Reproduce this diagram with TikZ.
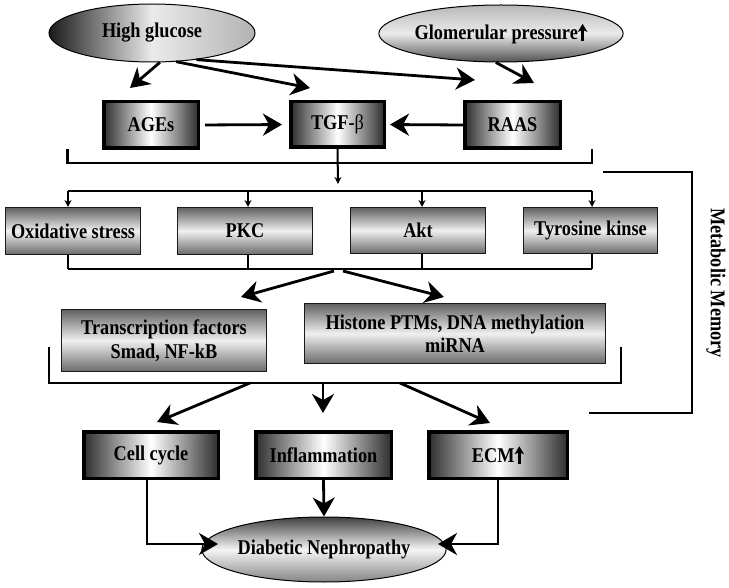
\documentclass[tikz,border=0pt]{standalone}
\usepackage{fontspec}
\setmainfont{Liberation Serif}[FakeStretch=0.87]
\usetikzlibrary{shapes.geometric,arrows.meta}
\newcommand{\thickup}{\tikz[baseline=0pt]\draw[line width=2.4pt,-{Stealth[length=8pt,width=9.5pt,inset=2pt]}] (0pt,-1.5pt) -- (0pt,16pt);}
\begin{document}
\begin{tikzpicture}[x=1pt,y=-1pt,
  every node/.style={font=\fontsize{21}{23.5}\selectfont\bfseries, inner sep=0pt},
  hbox/.style={draw=black, line width=3.5pt, minimum height=46.5pt, left color=black!82, right color=black!82, middle color=white},
  vbox/.style={draw=black!90, line width=1.2pt, top color=black!62, bottom color=black!58, middle color=white!94!black},
  ell/.style={ellipse, draw=black, line width=1pt},
  arr/.style={line width=2.8pt, -{Stealth[length=19pt,width=22pt,inset=6pt]}},
  sarr/.style={line width=2pt, -{Stealth[length=7pt,width=7pt]}},
  brk/.style={line width=2.8pt},
]
\useasboundingbox (0,0) rectangle (729,588);
\fill[white] (0,0) rectangle (729,588);

% ellipses
\node[ell, minimum width=206pt, minimum height=58pt, left color=black!90, right color=black!30, middle color=black!8] (hg) at (152,33) {High glucose};
\node[ell, minimum width=206pt, minimum height=57pt, top color=black!28, bottom color=black!68, middle color=black!8] (gp) at (501,33.5) {Glomerular pressure\thickup};
\node[ell, minimum width=194pt, minimum height=65pt, top color=black!75, bottom color=black!48, middle color=black!4] (dn) at (324,549.5) {Diabetic Nephropathy};

% row 1
\node[hbox, minimum width=94.5pt] (ages) at (151,125) {AGEs};
\node[hbox, minimum width=93.5pt, minimum height=45.5pt] (tgf) at (337.5,124.5) {TGF-{\mdseries β}};
\node[hbox, minimum width=95.5pt] (raas) at (512.5,125) {RAAS};

% row 2
\node[vbox, minimum width=134.8pt, minimum height=46.8pt] (ox) at (73,231) {Oxidative stress};
\node[vbox, minimum width=134.8pt, minimum height=46.8pt] (pkc) at (245,231) {PKC};
\node[vbox, minimum width=134.8pt, minimum height=45.8pt] (akt) at (418,230.5) {Akt};
\node[vbox, minimum width=133.8pt, minimum height=45.8pt] (tyr) at (590.5,230.5) {Tyrosine kinse};

% row 3
\node[vbox, align=center, minimum width=204.8pt, minimum height=61.8pt] (tf) at (164,340.5) {Transcription factors\\Smad, NF-kB};
\node[vbox, align=center, minimum width=300.8pt, minimum height=59.8pt] (hist) at (455,333.5) {Histone PTMs, DNA methylation\\miRNA};

% row 4
\node[hbox, minimum width=134.5pt] (cc) at (151,455) {Cell cycle};
\node[hbox, minimum width=135.5pt] (inf) at (323.5,455) {Inflammation};
\node[hbox, minimum width=138.5pt] (ecm) at (498,455) {ECM\thickup};

% side label
\node[rotate=-90] (mm) at (716,283) {Metabolic Memory};

% free ends
\coordinate (t1) at (130,88);
\coordinate (t2) at (310,88);
\coordinate (t3) at (475,80);
\coordinate (t4) at (534,83);

\draw[arr] (hg.-75) -- (t1);
\draw[arr] (hg.-50) -- (t2);
\draw[arr] (hg.-31) -- (t3);
\draw[arr] (gp.-100) -- (t4);

\draw[arr, shorten <=5pt, shorten >=7pt] (ages.east) -- (tgf.west);
\draw[arr, shorten >=4pt] (raas.west) -- (tgf.east);

% bracket 1
\coordinate (b1l) at (67.5,149);
\coordinate (b1r) at (592,149);
\draw[brk] (b1l) -- ++(0,14) -| (b1r);

% TGF down
\coordinate (d0) at (338,184);
\draw[sarr] (tgf.south) -- (d0);

% distribution
\coordinate (d1) at (68,191);
\coordinate (d2) at (248,191);
\coordinate (d3) at (422,191);
\coordinate (d4) at (592,191);
\draw[brk] (d1) -- (d4);
\draw[sarr] (d1) -- (d1 |- ox.north);
\draw[sarr] (d2) -- (d2 |- pkc.north);
\draw[sarr] (d3) -- (d3 |- akt.north);
\draw[sarr] (d4) -- (d4 |- tyr.north);

% collect
\coordinate (c1) at (68,269);
\coordinate (c2) at (248,269);
\coordinate (c3) at (422,269);
\coordinate (c4) at (592,269);
\draw[line width=2.2pt] (c1 |- ox.south) -- (c1);
\draw[line width=2.2pt] (c2 |- pkc.south) -- (c2);
\draw[line width=2.2pt] (c3 |- akt.south) -- (c3);
\draw[line width=2.2pt] (c4 |- tyr.south) -- (c4);
\draw[brk] (c1) -- (c4);

\coordinate (s1) at (334,271);
\coordinate (s2) at (343,271);
\coordinate (t5) at (241,297);
\coordinate (t6) at (444,297);
\draw[arr] (s1) -- (t5);
\draw[arr] (s2) -- (t6);

% bracket 3
\coordinate (b3l) at (49,347);
\coordinate (b3r) at (621,347);
\draw[brk] (b3l) -- ++(0,36) -| (b3r);

\coordinate (s3) at (250,383);
\coordinate (s4) at (323,383);
\coordinate (s5) at (400,383);
\coordinate (t7) at (157,422);
\coordinate (t8) at (323,413);
\coordinate (t9) at (490,423);
\draw[arr] (s3) -- (t7);
\draw[arr] (s4) -- (t8);
\draw[arr] (s5) -- (t9);

% metabolic memory bracket
\coordinate (m1) at (603,172);
\coordinate (m2) at (589,413);
\draw[brk] (m1) -- (692,172) |- (m2);

% to DN
\coordinate (t10) at (218,544);
\coordinate (t11) at (438,544);
\draw[arr] ([xshift=-4pt]cc.south) |- (t10);
\draw[arr] (inf.south) -- (dn.north);
\draw[arr] (ecm.south) |- (t11);

\end{tikzpicture}
\end{document}
